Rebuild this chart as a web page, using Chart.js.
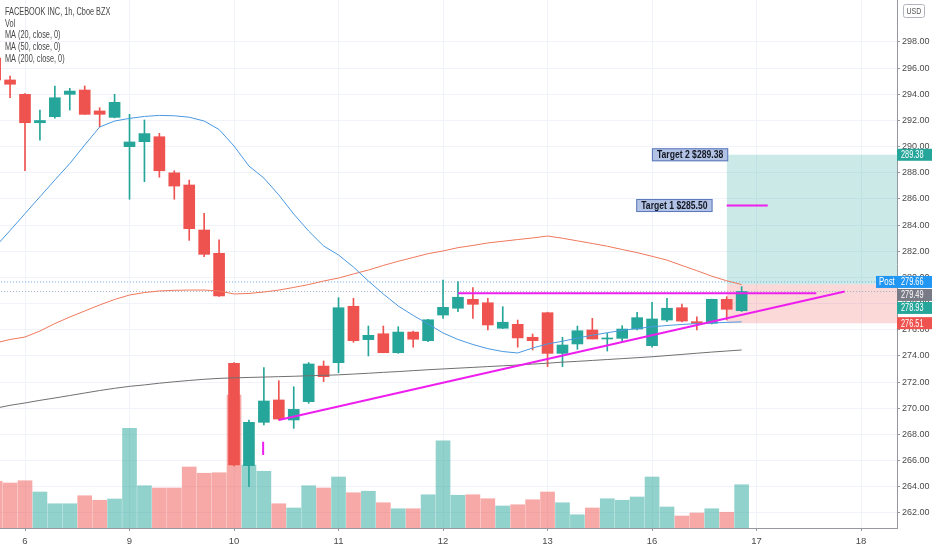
<!DOCTYPE html>
<html>
<head>
<meta charset="utf-8">
<title>FACEBOOK INC, 1h, Cboe BZX</title>
<script src="https://cdn.jsdelivr.net/npm/chart.js@4/dist/chart.umd.min.js"></script>
<style>
    html, body { margin: 0; padding: 0; background: #fff; }
    #chart { display: block; }
</style>
</head>
<body>
<canvas id="chart" width="932" height="550"></canvas>
<script>
// hourly bars, 7 a day; bar 0 = first bar of the 6th
const barIndex = [-2, -1, 0, 1, 2, 3, 4, 5, 6, 7, 8, 9, 10, 11, 12, 13, 14, 15, 16, 17, 18, 19, 20,
    21, 22, 23, 24, 25, 26, 27, 28, 29, 30, 31, 32, 33, 34, 35, 36, 37, 38, 39, 40, 41, 42, 43, 44, 45, 46, 47, 48];

const openPrice = [296.78, 295.10, 294.00, 291.83, 292.29, 294.00, 294.33, 292.73, 292.24, 290.00, 290.38, 290.76, 288.00,
    287.07, 283.63, 281.85, 273.44, 265.62, 268.93, 270.64, 269.11, 270.51, 273.23, 273.49, 277.80, 275.25, 275.70,
    274.25, 275.83, 275.17, 277.13, 277.65, 278.33, 278.07, 276.12, 276.42, 275.43, 277.31, 274.20, 274.92, 275.99,
    275.30, 275.35, 276.06, 274.79, 276.75, 277.69, 276.62, 276.50, 278.33, 277.46];
const highPrice = [297.20, 295.40, 294.05, 292.80, 294.64, 294.46, 294.64, 292.98, 294.00, 292.47, 292.04, 291.02, 288.16,
    287.45, 284.91, 282.87, 273.50, 269.10, 273.11, 272.11, 271.65, 273.50, 273.62, 278.46, 278.41, 276.29, 276.29,
    276.24, 275.90, 276.80, 279.81, 279.68, 279.22, 278.41, 277.77, 276.75, 275.68, 277.35, 275.43, 276.29, 276.88,
    275.73, 276.32, 277.34, 278.10, 278.41, 277.97, 277.00, 278.35, 278.53, 279.30];
const lowPrice = [294.90, 293.74, 288.16, 290.50, 292.17, 292.80, 292.47, 291.53, 292.20, 285.98, 287.32, 287.66, 285.98,
    282.84, 281.59, 278.55, 265.60, 264.01, 268.73, 269.10, 268.47, 270.38, 272.04, 272.72, 275.05, 274.00, 274.25,
    274.20, 274.67, 275.10, 276.88, 277.39, 276.88, 275.99, 276.10, 274.67, 274.46, 273.19, 273.19, 274.51, 275.30,
    274.38, 275.09, 276.00, 274.67, 276.62, 276.60, 275.99, 276.45, 276.75, 277.40];
const closePrice = [295.10, 294.77, 291.83, 292.00, 293.74, 294.25, 292.47, 292.47, 293.39, 290.36, 291.00, 288.16, 286.99,
    283.73, 281.77, 278.59, 265.67, 268.93, 270.56, 269.18, 269.92, 273.39, 272.42, 277.69, 275.17, 275.58, 274.25,
    275.83, 275.28, 276.77, 277.72, 278.49, 277.95, 276.37, 276.58, 275.38, 275.17, 274.20, 274.84, 275.93, 275.30,
    275.35, 276.06, 276.93, 276.83, 277.65, 276.67, 276.50, 278.33, 277.57, 278.93];
// volume in millions
const volume = [1.87, 1.80, 1.89, 1.44, 0.97, 0.97, 1.29, 1.11, 1.16, 3.99, 1.69, 1.60, 1.60, 2.44, 2.19, 2.21, 5.32,
    2.52, 2.27, 0.97, 0.80, 1.69, 1.60, 2.04, 1.41, 1.47, 1.01, 0.77, 0.77, 1.33, 3.49, 1.31, 1.33, 1.17, 0.88, 0.93,
    1.13, 1.44, 1.01, 0.53, 0.80, 1.17, 1.11, 1.24, 2.04, 0.84, 0.48, 0.60, 0.77, 0.63, 1.73];

const ma20 = [282.33, 283.59, 284.88, 286.17, 287.45, 288.71, 290.13, 291.50, 291.96, 292.16, 292.31, 292.39, 292.36,
    292.25, 291.96, 291.31, 290.05, 288.52, 287.60, 286.31, 284.85, 283.55, 282.41, 281.72, 280.80, 279.73, 278.74,
    277.82, 277.10, 276.45, 275.76, 275.26, 274.88, 274.56, 274.34, 274.23, 274.61, 274.92, 275.13, 275.36, 275.59,
    275.78, 275.96, 276.10, 276.23, 276.33, 276.41, 276.48, 276.52, 276.57, 276.61];
const ma50 = [274.99, 275.26, 275.45, 275.91, 276.48, 276.98, 277.44, 277.90, 278.32, 278.66, 278.85, 278.97, 279.02,
    279.04, 279.04, 278.97, 278.74, 278.78, 278.89, 279.04, 279.24, 279.46, 279.73, 279.96, 280.27, 280.57, 280.92,
    281.24, 281.53, 281.82, 282.03, 282.28, 282.45, 282.64, 282.77, 282.90, 283.02, 283.17, 283.00, 282.80, 282.60,
    282.39, 282.14, 281.90, 281.62, 281.33, 280.92, 280.52, 280.10, 279.75, 279.46];
const ma200 = [270.00, 270.23, 270.41, 270.61, 270.79, 270.98, 271.17, 271.36, 271.53, 271.68, 271.79, 271.92, 272.03,
    272.13, 272.22, 272.29, 272.33, 272.36, 272.39, 272.42, 272.45, 272.49, 272.52, 272.56, 272.62, 272.68, 272.75,
    272.81, 272.88, 272.95, 273.01, 273.07, 273.13, 273.19, 273.25, 273.31, 273.38, 273.45, 273.53, 273.59, 273.66,
    273.73, 273.80, 273.87, 273.94, 274.03, 274.12, 274.21, 274.30, 274.38, 274.46];

const dayTicks = [0, 7, 14, 21, 28, 35, 42, 49, 56];
const dayLabels = ['6', '9', '10', '11', '12', '13', '16', '17', '18'];
const priceTicks = [262, 264, 266, 268, 270, 272, 274, 276, 278, 280, 282, 284, 286, 288, 290, 292, 294, 296, 298];

// drawings, as [bar, price] pairs
const trendUp = [[17.0, 269.11], [54.9, 278.93]];
const resistance = [[29.0, 278.79], [53.0, 278.79]];
const markTick = [[15.95, 267.45], [15.95, 266.43]];
const target1Line = [[47.0, 285.50], [49.75, 285.50]];

const positionStart = 47.0;
const entryPrice = 279.49;
const stopPrice = 276.51;
const targetNames = ['Target 2', 'Target 1'];
const targetPrices = [289.38, 285.50];
const targetLabelEnd = [47.1, 46.05];

const lastPrice = 278.93;
const postPrice = 279.66;

const legendLines = ['FACEBOOK INC, 1h, Cboe BZX', 'Vol', 'MA (20, close, 0)', 'MA (50, close, 0)', 'MA (200, close, 0)'];

const upColor = '#26a69a';
const downColor = '#ef5350';
const baseFont = '"Liberation Sans", Arial, sans-serif';

function isUp(i) {
    return closePrice[i] >= openPrice[i];
}

function pairs(list) {
    return list.map(p => ({ x: p[0], y: p[1] }));
}

function flatLine(price, from, to) {
    return [{ x: from, y: price }, { x: to, y: price }];
}

// the screenshot's text is narrow, so squeeze it sideways
function narrowText(ctx, text, x, y, sx) {
    ctx.save();
    ctx.translate(x, y);
    ctx.scale(sx, 1);
    ctx.fillText(text, 0, 0);
    ctx.restore();
}

const candleColors = barIndex.map((b, i) => isUp(i) ? upColor : downColor);
const volumeColors = barIndex.map((b, i) => isUp(i) ? 'rgba(38,166,154,0.5)' : 'rgba(239,83,80,0.5)');

const priceTags = [
    { price: targetPrices[0], color: '#26a69a' },
    { price: postPrice, color: '#2196f3', pre: 'Post' },
    { price: entryPrice, color: '#787b86' },
    { price: lastPrice, color: '#26a69a' },
    { price: stopPrice, color: '#ef5350' }
];

const overlayPlugin = {
    id: 'overlay',
    afterDraw(chart) {
        const ctx = chart.ctx;
        const xs = chart.scales.x;
        const ys = chart.scales.y;
        const area = chart.chartArea;
        ctx.save();
        ctx.textBaseline = 'middle';
        ctx.textAlign = 'left';

        // legend text, top left
        ctx.font = '10.5px ' + baseFont;
        ctx.fillStyle = '#474747';
        legendLines.forEach((t, i) => narrowText(ctx, t, 5, 12 + i * 11.7, 0.7));

        // target labels
        ctx.font = 'bold 10px ' + baseFont;
        targetNames.forEach((name, i) => {
            const text = name + ' $' + targetPrices[i].toFixed(2);
            const w = ctx.measureText(text).width * 0.86 + 10;
            const right = xs.getPixelForValue(targetLabelEnd[i]);
            const y = ys.getPixelForValue(targetPrices[i]);
            ctx.fillStyle = '#b3c3e6';
            ctx.fillRect(right - w, y - 6.5, w, 13);
            ctx.strokeStyle = '#5a78bb';
            ctx.lineWidth = 1;
            ctx.strokeRect(right - w + 0.5, y - 6, w - 1, 12);
            ctx.fillStyle = '#131722';
            narrowText(ctx, text, right - w + 5, y + 0.5, 0.86);
        });

        // price tags on the right scale
        ctx.font = '10.5px ' + baseFont;
        let prevBottom = -Infinity;
        priceTags.slice().sort((a, b) => b.price - a.price).forEach(tag => {
            let y = ys.getPixelForValue(tag.price);
            if (y - 6 < prevBottom + 1) {
                y = prevBottom + 7;
            }
            prevBottom = y + 6;
            ctx.fillStyle = tag.color;
            ctx.fillRect(area.right, y - 6, chart.width - area.right, 12);
            ctx.fillStyle = '#fff';
            narrowText(ctx, tag.price.toFixed(2), area.right + 4, y + 0.5, 0.7);
            if (tag.pre) {
                ctx.fillStyle = tag.color;
                ctx.fillRect(area.right - 21, y - 6, 21, 12);
                ctx.fillStyle = '#fff';
                narrowText(ctx, tag.pre, area.right - 18, y + 0.5, 0.75);
            }
        });

        // currency box
        ctx.strokeStyle = '#b2b5be';
        ctx.lineWidth = 1;
        ctx.beginPath();
        ctx.roundRect(903.5, 4.5, 21, 13, 2);
        ctx.stroke();
        ctx.fillStyle = '#555';
        ctx.font = '8.5px ' + baseFont;
        narrowText(ctx, 'USD', 906.5, 11.5, 0.82);

        ctx.restore();
    }
};

const lineBase = { type: 'line', pointRadius: 0, borderWidth: 1, tension: 0, fill: false };

const config = {
    type: 'bar',
    data: {
        datasets: [
            Object.assign({}, lineBase, {
                label: 'target zone', order: 9, clip: 0,
                data: flatLine(targetPrices[0], positionStart, 58.5),
                fill: { value: entryPrice }, backgroundColor: 'rgba(38,166,154,0.24)', borderColor: 'rgba(0,0,0,0)'
            }),
            Object.assign({}, lineBase, {
                label: 'stop zone', order: 9, clip: 0,
                data: flatLine(stopPrice, positionStart, 58.5),
                fill: { value: entryPrice }, backgroundColor: 'rgba(239,83,80,0.22)', borderColor: 'rgba(0,0,0,0)'
            }),
            Object.assign({}, lineBase, {
                label: 'post', order: 8, borderDash: [1, 2], borderColor: '#6aa9ec',
                data: flatLine(postPrice, -2, 59)
            }),
            Object.assign({}, lineBase, {
                label: 'last', order: 8, borderDash: [1, 2], borderColor: '#9aabc0',
                data: flatLine(lastPrice, -2, 59)
            }),
            {
                type: 'bar', label: 'wick', order: 7, grouped: false, barThickness: 1,
                data: barIndex.map((b, i) => ({ x: b, y: [lowPrice[i], highPrice[i]] })),
                backgroundColor: candleColors
            },
            {
                type: 'bar', label: 'body', order: 6, grouped: false, barThickness: 11, minBarLength: 1,
                data: barIndex.map((b, i) => ({ x: b, y: [Math.min(openPrice[i], closePrice[i]), Math.max(openPrice[i], closePrice[i])] })),
                backgroundColor: candleColors
            },
            {
                type: 'bar', label: 'Vol', yAxisID: 'yv', order: 5, grouped: false, barThickness: 14,
                data: barIndex.map((b, i) => ({ x: b, y: volume[i] })),
                backgroundColor: volumeColors
            },
            Object.assign({}, lineBase, {
                label: 'MA 200', order: 4, borderColor: '#707070',
                data: barIndex.map((b, i) => ({ x: b, y: ma200[i] }))
            }),
            Object.assign({}, lineBase, {
                label: 'MA 50', order: 3, borderColor: '#f0785c',
                data: barIndex.map((b, i) => ({ x: b, y: ma50[i] }))
            }),
            Object.assign({}, lineBase, {
                label: 'MA 20', order: 2, borderColor: '#4a98e0',
                data: barIndex.map((b, i) => ({ x: b, y: ma20[i] }))
            }),
            Object.assign({}, lineBase, { label: 'trend', order: 1, borderWidth: 2, borderColor: '#ee1fee', data: pairs(trendUp) }),
            Object.assign({}, lineBase, { label: 'resistance', order: 1, borderWidth: 2, borderColor: '#ee1fee', data: pairs(resistance) }),
            Object.assign({}, lineBase, { label: 'mark', order: 1, borderWidth: 2, borderColor: '#ee1fee', data: pairs(markTick) }),
            Object.assign({}, lineBase, { label: 'target 1', order: 1, borderWidth: 2, borderColor: '#ee1fee', data: pairs(target1Line) })
        ]
    },
    options: {
        responsive: false,
        animation: false,
        devicePixelRatio: 1,
        layout: { padding: 0 },
        plugins: {
            legend: { display: false },
            tooltip: { enabled: false }
        },
        scales: {
            x: {
                type: 'linear',
                min: -1.6745,
                max: 58.406,
                offset: false,
                grid: { color: '#f0f3fa', offset: false, tickLength: 3, tickColor: '#9598a1' },
                border: { color: '#9598a1' },
                ticks: {
                    color: '#4a4a4a',
                    font: { family: baseFont, size: 9.5 },
                    padding: 5,
                    maxRotation: 0,
                    autoSkip: false,
                    callback: v => dayLabels[dayTicks.indexOf(v)]
                },
                afterBuildTicks: s => { s.ticks = dayTicks.map(v => ({ value: v })); },
                afterFit: s => { s.height = 22; s.paddingLeft = 0; s.paddingRight = 0; }
            },
            y: {
                type: 'linear',
                position: 'right',
                min: 260.853,
                max: 301.210,
                grid: { color: '#f0f3fa', tickLength: 3, tickColor: '#9598a1' },
                border: { color: '#9598a1' },
                ticks: {
                    color: '#4a4a4a',
                    font: { family: baseFont, size: 9 },
                    padding: 2,
                    callback: v => v.toFixed(2)
                },
                afterBuildTicks: s => { s.ticks = priceTicks.map(v => ({ value: v })); },
                afterFit: s => { s.width = 35; s.paddingTop = 0; s.paddingBottom = 0; }
            },
            yv: {
                type: 'linear',
                display: false,
                min: 0,
                max: 21.12
            }
        }
    },
    plugins: [overlayPlugin]
};

new Chart(document.getElementById('chart'), config);
</script>
</body>
</html>
